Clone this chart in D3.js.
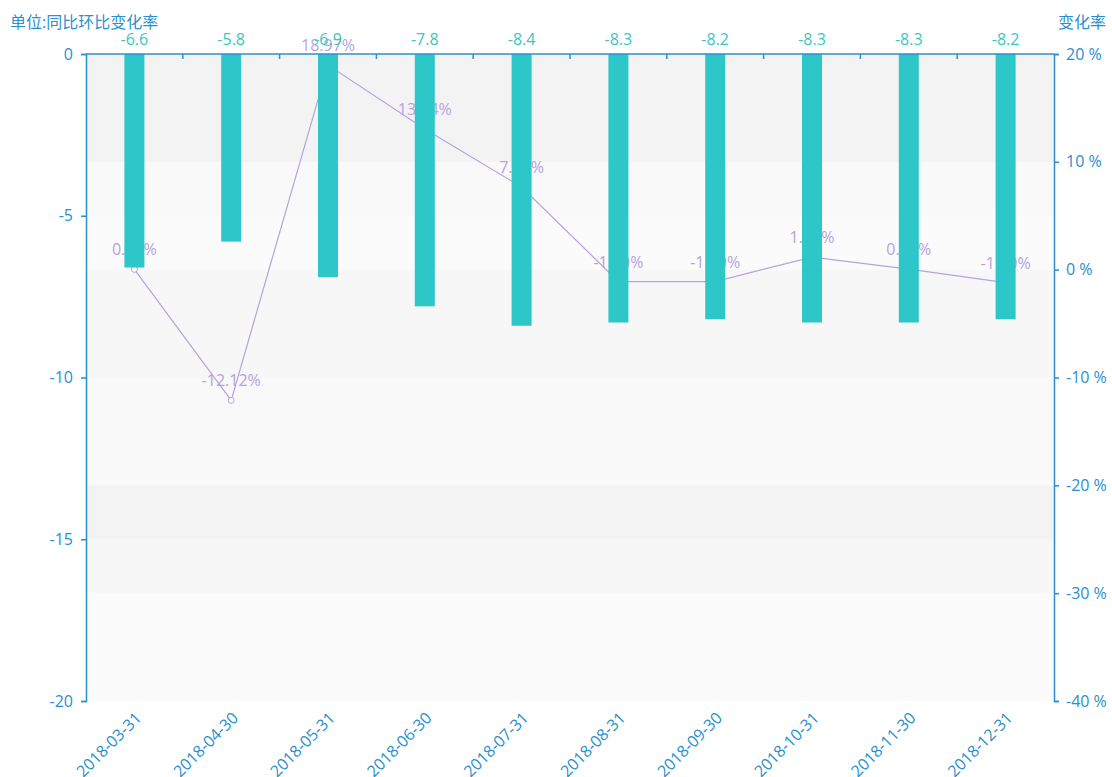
<!DOCTYPE html>
<html>
<head>
<meta charset="utf-8">
<script src="https://cdn.jsdelivr.net/npm/d3@7"></script>
<style>
  body { margin: 0; background: #fff; }
  text { font-family: "Open Sans", "Noto Sans CJK SC", sans-serif; }
</style>
</head>
<body>
<svg id="chart" width="1112" height="777"></svg>
<script>
// data
const dates = ["2018-03-31", "2018-04-30", "2018-05-31", "2018-06-30", "2018-07-31",
               "2018-08-31", "2018-09-30", "2018-10-31", "2018-11-30", "2018-12-31"];
const barValues = [-6.6, -5.8, -6.9, -7.8, -8.4, -8.3, -8.2, -8.3, -8.3, -8.2];
const rateValues = [0.03, -12.12, 18.97, 13.04, 7.66, -1.10, -1.10, 1.17, 0.05, -1.20];
const leftTicks = [0, -5, -10, -15, -20];
const rightTicks = [20, 10, 0, -10, -20, -30, -40];

const svg = d3.select("#chart");
const axisColor = "#2a8fcd";
const barColor = "#2ec7c9";
const lineColor = "#b6a2de";
const fontStack = "'Open Sans', 'Noto Sans CJK SC', sans-serif";

// grid edges
const gridLeft = 86, gridRight = 1054, gridTop = 54, gridBottom = 701;

const x = d3.scaleBand().domain(dates).range([gridLeft, gridRight]);
const yLeft = d3.scaleLinear().domain([-20, 0]).range([gridBottom, gridTop]);
const yRight = d3.scaleLinear().domain([-40, 20]).range([gridBottom, gridTop]);

// split areas of both value axes, stacked
const bandColors = ["rgba(250,250,250,0.3)", "rgba(200,200,200,0.1)"];
const leftBands = d3.range(leftTicks.length - 1).map(i => [-20 + i * 5, -15 + i * 5]);
const rightBands = d3.range(rightTicks.length - 1).map(i => [-40 + i * 10, -30 + i * 10]);

svg.append("g").selectAll("rect").data(leftBands).join("rect")
    .attr("x", gridLeft).attr("width", gridRight - gridLeft)
    .attr("y", d => yLeft(d[1]))
    .attr("height", d => yLeft(d[0]) - yLeft(d[1]))
    .attr("fill", (d, i) => bandColors[i % 2]);

svg.append("g").selectAll("rect").data(rightBands).join("rect")
    .attr("x", gridLeft).attr("width", gridRight - gridLeft)
    .attr("y", d => yRight(d[1]))
    .attr("height", d => yRight(d[0]) - yRight(d[1]))
    .attr("fill", (d, i) => bandColors[i % 2]);

const cx = d => x(d) + x.bandwidth() / 2;

// change rate line
const line = d3.line()
    .x((d, i) => cx(dates[i]))
    .y(d => yRight(d));

svg.append("path")
    .datum(rateValues)
    .attr("d", line)
    .attr("fill", "none")
    .attr("stroke", lineColor)
    .attr("stroke-width", 1.2);

svg.append("g").selectAll("circle").data(rateValues).join("circle")
    .attr("cx", (d, i) => cx(dates[i]))
    .attr("cy", d => yRight(d))
    .attr("r", 3)
    .attr("fill", "#fff")
    .attr("stroke", lineColor)
    .attr("stroke-width", 1);

svg.append("g").selectAll("text").data(rateValues).join("text")
    .attr("x", (d, i) => cx(dates[i]))
    .attr("y", d => yRight(d) - 14)
    .attr("text-anchor", "middle")
    .attr("font-size", 16)
    .attr("fill", lineColor)
    .text(d => d.toFixed(2) + "%");

// bars drawn over the line labels
const barW = 20;
svg.append("g").selectAll("rect").data(barValues).join("rect")
    .attr("x", (d, i) => cx(dates[i]) - barW / 2)
    .attr("y", yLeft(0))
    .attr("width", barW)
    .attr("height", d => yLeft(d) - yLeft(0))
    .attr("fill", barColor);

svg.append("g").selectAll("text").data(barValues).join("text")
    .attr("x", (d, i) => cx(dates[i]))
    .attr("y", yLeft(0) - 9)
    .attr("text-anchor", "middle")
    .attr("font-size", 16)
    .attr("fill", "#3cc6bd")
    .text(d => d.toFixed(1));

// left axis
const gL = svg.append("g")
    .attr("transform", "translate(" + gridLeft + ",0)")
    .call(d3.axisLeft(yLeft).tickValues(leftTicks).tickSize(5).tickPadding(8)
        .tickFormat(d => String(d)));
gL.select(".domain").attr("stroke", axisColor).attr("stroke-width", 1.5);
gL.selectAll(".tick line").attr("stroke", axisColor).attr("stroke-width", 1.5);
gL.selectAll(".tick text").attr("fill", axisColor).attr("font-size", 16)
    .style("font-family", fontStack);

// right axis
const gR = svg.append("g")
    .attr("transform", "translate(" + gridRight + ",0)")
    .call(d3.axisRight(yRight).tickValues(rightTicks).tickSize(5).tickPadding(7)
        .tickFormat(d => d + " %"));
gR.select(".domain").attr("stroke", axisColor).attr("stroke-width", 1.5);
gR.selectAll(".tick line").attr("stroke", axisColor).attr("stroke-width", 1.5);
gR.selectAll(".tick text").attr("fill", axisColor).attr("font-size", 16)
    .style("font-family", fontStack);

// category axis line sits on zero, ticks between categories pointing down
svg.append("line")
    .attr("x1", gridLeft).attr("x2", gridRight)
    .attr("y1", gridTop).attr("y2", gridTop)
    .attr("stroke", axisColor).attr("stroke-width", 1.5);

svg.append("g").selectAll("line").data(dates.slice(1)).join("line")
    .attr("x1", d => x(d)).attr("x2", d => x(d))
    .attr("y1", gridTop).attr("y2", gridTop + 5)
    .attr("stroke", axisColor).attr("stroke-width", 1.5);

// category labels at the bottom, rotated
svg.append("g").selectAll("text").data(dates).join("text")
    .attr("transform", d => "translate(" + (cx(d) + 4) + "," + (gridBottom + 14) + ") rotate(-45)")
    .attr("text-anchor", "end")
    .attr("dy", "0.35em")
    .attr("font-size", 16)
    .attr("fill", axisColor)
    .text(d => d);

// axis names
svg.append("text")
    .attr("x", 10).attr("y", 28)
    .attr("font-size", 16)
    .attr("fill", axisColor)
    .text("单位:同比环比变化率");

svg.append("text")
    .attr("x", 1106).attr("y", 28)
    .attr("text-anchor", "end")
    .attr("font-size", 16)
    .attr("fill", axisColor)
    .text("变化率");
</script>
</body>
</html>
